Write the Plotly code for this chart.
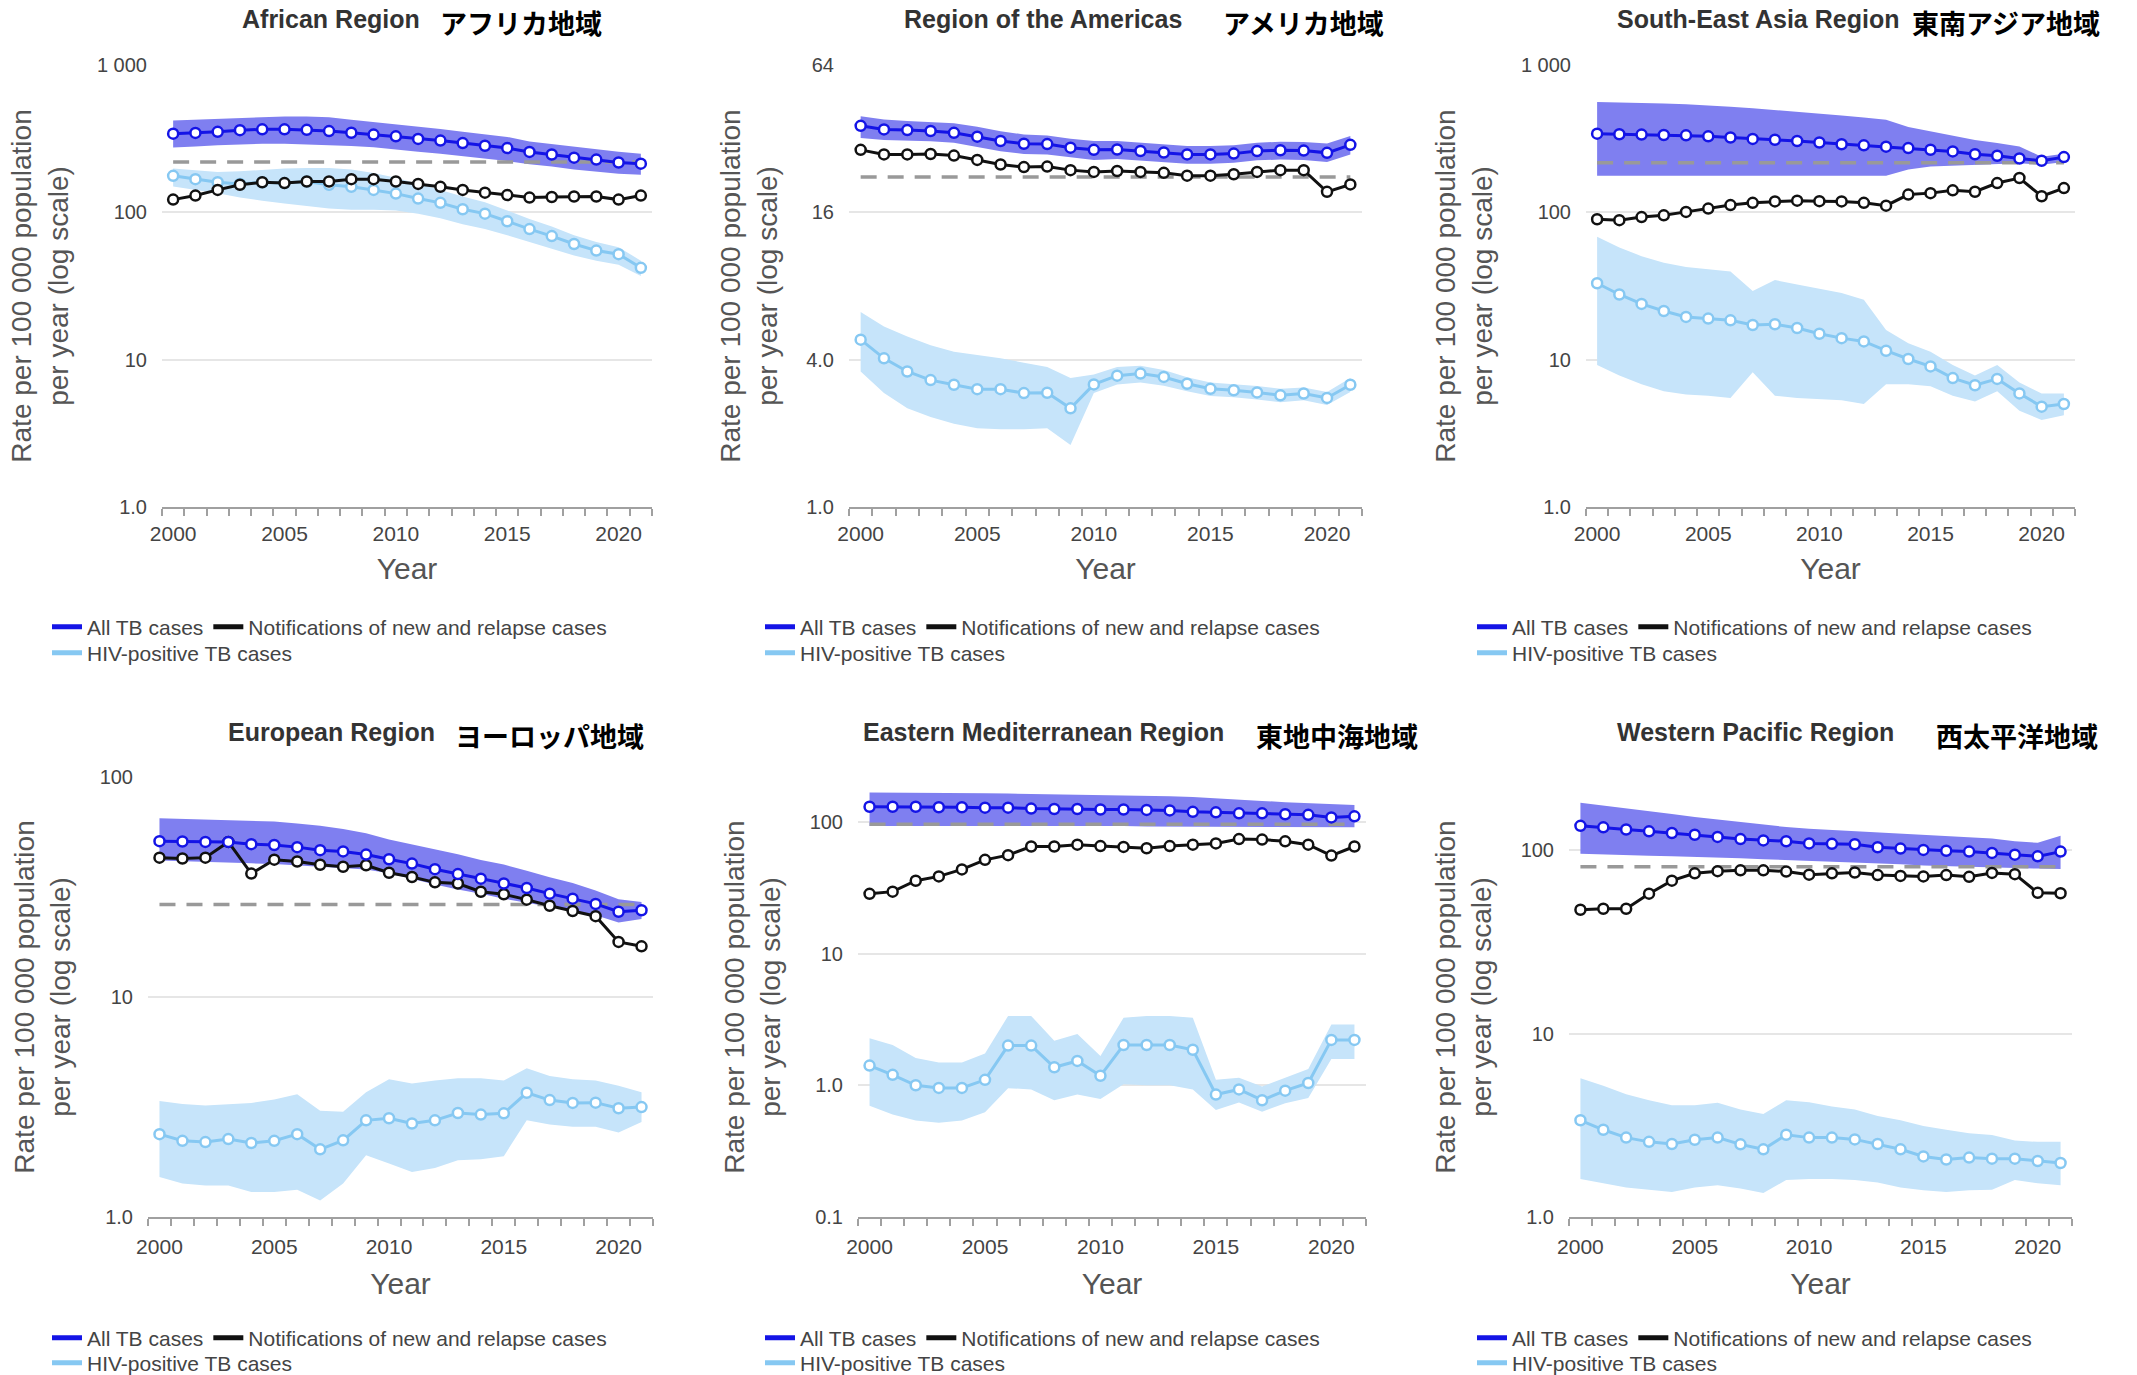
import plotly.graph_objects as go

years = list(range(2000, 2022))

# ---------------- African Region ----------------
afr_all = [342, 346, 352, 361, 366, 366, 363, 356, 347, 337, 328, 315, 307, 295, 283, 273, 257, 247, 235, 228, 218, 214]
afr_all_hi = [420, 425, 432, 438, 444, 447, 447, 442, 425, 410, 398, 382, 368, 352, 338, 325, 302, 290, 277, 268, 258, 250]
afr_all_lo = [275, 280, 285, 290, 292, 292, 290, 286, 282, 276, 268, 258, 250, 240, 232, 223, 212, 205, 195, 190, 183, 180]
afr_notif = [122, 130, 142, 154, 160, 158, 162, 162, 168, 168, 162, 156, 149, 142, 136, 131, 126, 127, 128, 128, 122, 130]
afr_hiv = [177, 168, 160, 156, 160, 158, 162, 154, 149, 142, 134, 124, 116, 105, 98, 87, 77, 69, 61, 55, 52, 42]
afr_hiv_hi = [198, 192, 188, 190, 195, 198, 200, 200, 195, 185, 172, 157, 142, 128, 117, 103, 90, 80, 70, 63, 58, 47]
afr_hiv_lo = [150, 142, 135, 126, 120, 115, 110, 106, 104, 104, 103, 98, 91, 83, 77, 70, 63, 57, 51, 47, 44, 37]
afr_target = 220

# ---------------- Region of the Americas ----------------
amr_all = [36.1, 34.9, 34.7, 34.4, 33.8, 32.6, 31.3, 30.5, 30.4, 29.4, 28.8, 28.9, 28.5, 28.1, 27.6, 27.6, 27.8, 28.5, 28.7, 28.6, 28.0, 30.2]
amr_all_hi = [39.5, 38.3, 37.8, 37.5, 37.0, 35.8, 34.3, 33.3, 33.0, 32.0, 31.3, 31.3, 30.8, 30.4, 29.9, 29.9, 30.1, 30.8, 31.1, 31.0, 30.6, 32.8]
amr_all_lo = [32.2, 31.6, 31.4, 31.2, 30.8, 29.6, 28.4, 27.7, 27.6, 26.8, 26.2, 26.4, 26.0, 25.7, 25.3, 25.3, 25.5, 26.1, 26.3, 26.2, 25.7, 27.6]
amr_notif = [28.8, 27.6, 27.6, 27.7, 27.3, 26.2, 25.1, 24.5, 24.6, 23.8, 23.4, 23.6, 23.4, 23.2, 22.6, 22.6, 22.9, 23.4, 23.8, 23.8, 19.4, 20.8]
amr_hiv = [4.83, 4.05, 3.58, 3.30, 3.16, 3.03, 3.03, 2.92, 2.93, 2.53, 3.17, 3.44, 3.51, 3.40, 3.19, 3.04, 3.00, 2.94, 2.86, 2.91, 2.79, 3.16]
amr_hiv_hi = [6.27, 5.46, 4.97, 4.58, 4.31, 4.17, 4.05, 3.89, 3.73, 3.37, 3.48, 3.73, 3.78, 3.63, 3.39, 3.23, 3.18, 3.12, 3.04, 3.08, 2.95, 3.37]
amr_hiv_lo = [3.58, 2.92, 2.53, 2.33, 2.19, 2.10, 2.08, 2.08, 2.10, 1.79, 2.92, 3.17, 3.23, 3.13, 2.97, 2.84, 2.81, 2.75, 2.68, 2.73, 2.61, 2.95]
amr_target = 22.3

# ---------------- South-East Asia Region ----------------
sear_all = [342, 339, 337, 335, 333, 328, 322, 315, 311, 305, 298, 290, 285, 279, 273, 266, 259, 248, 242, 232, 224, 237]
sear_all_hi = [561, 558, 553, 548, 542, 533, 520, 508, 495, 482, 470, 455, 440, 425, 380, 355, 330, 310, 295, 280, 238, 250]
sear_all_lo = [177, 177, 177, 177, 177, 177, 177, 177, 177, 177, 177, 177, 177, 177, 195, 205, 208, 210, 213, 215, 210, 220]
sear_notif = [89.7, 88.5, 92.8, 95.4, 100.7, 106, 112, 116, 118.6, 120, 119, 118.6, 116, 111, 132, 135, 141, 138, 158, 171, 128.6, 146]
sear_hiv = [33.0, 27.7, 23.9, 21.4, 19.5, 19.0, 18.5, 17.2, 17.4, 16.4, 15.0, 14.0, 13.3, 11.5, 10.1, 9.0, 7.5, 6.7, 7.4, 5.9, 4.8, 5.0]
sear_hiv_hi = [68.4, 57.7, 50.4, 45.5, 42.5, 41.1, 39.7, 29.2, 34.7, 32.4, 30.3, 28.3, 25.5, 15.9, 12.9, 11.3, 9.2, 7.8, 9.2, 7.0, 5.9, 5.9]
sear_hiv_lo = [9.2, 7.8, 6.8, 6.1, 5.8, 5.7, 5.5, 8.2, 5.7, 5.5, 5.4, 5.3, 5.0, 6.8, 6.8, 6.6, 5.7, 5.2, 6.1, 4.5, 3.9, 4.2]
sear_target = 217

# ---------------- European Region ----------------
eur_all = [51.1, 50.9, 50.7, 50.7, 49.5, 49.1, 48.0, 46.5, 45.9, 44.4, 42.3, 40.4, 38.1, 36.2, 34.5, 32.8, 31.3, 29.5, 28.0, 26.5, 24.4, 24.8]
eur_all_hi = [65.0, 64.5, 64.0, 63.6, 63.2, 62.7, 61.5, 60.0, 58.0, 55.5, 52.0, 49.5, 47.0, 44.5, 42.0, 40.0, 37.5, 35.0, 33.0, 30.5, 27.8, 27.0]
eur_all_lo = [41.7, 41.5, 41.2, 40.8, 40.5, 40.2, 39.8, 39.2, 38.6, 38.0, 36.5, 34.5, 32.5, 30.8, 29.5, 28.0, 26.8, 25.7, 24.8, 23.5, 21.8, 22.6]
eur_notif = [43.0, 42.6, 43.0, 50.7, 36.4, 42.1, 41.3, 39.9, 39.1, 39.7, 36.7, 35.1, 33.2, 32.8, 30.1, 29.3, 27.7, 26.0, 24.6, 23.3, 17.8, 17.0]
eur_hiv = [2.38, 2.22, 2.19, 2.26, 2.17, 2.22, 2.38, 2.03, 2.23, 2.75, 2.81, 2.66, 2.75, 2.97, 2.92, 2.96, 3.67, 3.40, 3.30, 3.31, 3.12, 3.16]
eur_hiv_hi = [3.37, 3.26, 3.21, 3.26, 3.30, 3.42, 3.61, 3.04, 3.01, 3.69, 4.23, 4.04, 4.17, 4.27, 4.27, 4.17, 4.74, 4.37, 4.23, 4.17, 3.95, 3.69]
eur_hiv_lo = [1.52, 1.42, 1.39, 1.39, 1.30, 1.30, 1.33, 1.19, 1.42, 1.91, 1.75, 1.60, 1.67, 1.81, 1.83, 1.89, 2.75, 2.63, 2.57, 2.57, 2.42, 2.70]
eur_target = 26.3

# ---------------- Eastern Mediterranean Region ----------------
emr_all = [130, 130, 130, 129, 129, 128, 128, 126, 125, 125, 124, 124, 123, 122, 119, 118, 116, 116, 114, 113, 108, 110]
emr_all_hi = [167, 167, 167, 166, 166, 165, 164, 163, 162, 161, 160, 159, 158, 156, 154, 150, 146, 144, 141, 139, 136, 134]
emr_all_lo = [93, 93, 93, 93, 93, 93, 93, 93, 93, 93, 93, 93, 92, 92, 92, 92, 92, 92, 91, 91, 91, 91]
emr_notif = [28.4, 29.5, 35.7, 38.5, 43.5, 51.4, 55.8, 64.9, 64.9, 67.0, 65.4, 64.5, 63.0, 65.4, 67.0, 68.5, 73.9, 73.3, 71.1, 67.0, 55.4, 64.9]
emr_hiv = [1.41, 1.20, 1.00, 0.955, 0.955, 1.10, 2.0, 2.0, 1.37, 1.53, 1.18, 2.02, 2.02, 2.02, 1.86, 0.85, 0.93, 0.77, 0.91, 1.04, 2.21, 2.21]
emr_hiv_hi = [2.27, 2.02, 1.61, 1.49, 1.49, 1.74, 3.36, 3.36, 2.18, 2.45, 1.67, 3.26, 3.36, 3.36, 3.26, 1.10, 1.14, 0.98, 1.14, 1.33, 2.89, 2.89]
emr_hiv_lo = [0.70, 0.60, 0.54, 0.52, 0.54, 0.625, 0.95, 0.93, 0.77, 0.85, 0.785, 1.02, 1.0, 1.0, 0.93, 0.65, 0.74, 0.63, 0.73, 0.80, 1.58, 1.58]
emr_target = 96

# ---------------- Western Pacific Region ----------------
wpr_all = [136, 133.5, 129.9, 127, 124.3, 121.6, 118.4, 115.2, 113.3, 112.1, 109.1, 108.5, 107.9, 103.9, 102.2, 100.5, 99.5, 98.4, 96.8, 94.7, 92.7, 98.4]
wpr_all_hi = [182, 176, 170, 164, 158, 152, 147, 142, 138, 134, 131, 129, 127, 125, 123, 122, 120, 118, 116, 112, 110, 120]
wpr_all_lo = [95.7, 95, 94.3, 93.5, 92.7, 92, 91, 90.5, 89.5, 88.8, 88.2, 87, 86, 85, 84, 82.7, 82, 81.5, 81, 80, 79.5, 79.1]
wpr_notif = [47.4, 48.0, 48.0, 58.0, 68.3, 74.9, 77.0, 77.8, 77.8, 76.6, 73.7, 74.9, 75.7, 73.3, 72.5, 72.1, 73.3, 71.7, 75.3, 74.1, 58.7, 58.3]
wpr_hiv = [3.37, 2.99, 2.71, 2.57, 2.50, 2.64, 2.71, 2.49, 2.34, 2.81, 2.71, 2.71, 2.65, 2.50, 2.34, 2.14, 2.06, 2.11, 2.08, 2.08, 2.02, 1.97]
wpr_hiv_hi = [5.71, 5.20, 4.67, 4.33, 4.07, 4.07, 4.20, 3.86, 3.65, 4.33, 4.22, 4.00, 3.86, 3.55, 3.37, 3.14, 2.99, 2.86, 2.80, 2.61, 2.57, 2.57]
wpr_hiv_lo = [1.61, 1.53, 1.45, 1.41, 1.37, 1.45, 1.49, 1.43, 1.35, 1.59, 1.61, 1.61, 1.59, 1.54, 1.45, 1.40, 1.37, 1.40, 1.41, 1.59, 1.53, 1.49]
wpr_target = 81.3

# titles and tick labels
titles_en = ["African Region", "Region of the Americas", "South-East Asia Region",
             "European Region", "Eastern Mediterranean Region", "Western Pacific Region"]
titles_ja = ["アフリカ地域", "アメリカ地域", "東南アジア地域",
             "ヨーロッパ地域", "東地中海地域", "西太平洋地域"]
ytick_vals = [[1, 10, 100, 1000], [1, 4, 16, 64], [1, 10, 100, 1000],
              [1, 10, 100], [0.1, 1, 10, 100], [1, 10, 100]]
ytick_text = [["1.0", "10", "100", "1 000"], ["1.0", "4.0", "16", "64"], ["1.0", "10", "100", "1 000"],
              ["1.0", "10", "100"], ["0.1", "1.0", "10", "100"], ["1.0", "10", "100"]]
yranges = [[0, 3], [0, 1.80618], [0, 3], [0, 2], [-1, 2.34], [0, 2.40]]
xtick_vals = [2000, 2005, 2010, 2015, 2020]
legend_names = ["All TB cases", "Notifications of new and relapse cases", "HIV-positive TB cases"]

panels = [
    (afr_all, afr_all_hi, afr_all_lo, afr_notif, afr_hiv, afr_hiv_hi, afr_hiv_lo, afr_target),
    (amr_all, amr_all_hi, amr_all_lo, amr_notif, amr_hiv, amr_hiv_hi, amr_hiv_lo, amr_target),
    (sear_all, sear_all_hi, sear_all_lo, sear_notif, sear_hiv, sear_hiv_hi, sear_hiv_lo, sear_target),
    (eur_all, eur_all_hi, eur_all_lo, eur_notif, eur_hiv, eur_hiv_hi, eur_hiv_lo, eur_target),
    (emr_all, emr_all_hi, emr_all_lo, emr_notif, emr_hiv, emr_hiv_hi, emr_hiv_lo, emr_target),
    (wpr_all, wpr_all_hi, wpr_all_lo, wpr_notif, wpr_hiv, wpr_hiv_hi, wpr_hiv_lo, wpr_target),
]

# ---------------- styling / layout ----------------
W, H = 2137, 1375
FONT = "Liberation Sans, Arial, sans-serif"
JFONT = "Noto Sans CJK JP, sans-serif"
BLUE = "#1414e6"
BAND_BLUE = "#7f7ff0"
BLACK = "#111111"
LBLUE = "#86c8f2"
BAND_LBLUE = "#c6e4fa"
GREY_DASH = "#999999"

# plot areas in pixels: (left, right, top, bottom)
areas = [
    (162, 652, 65, 507), (849, 1362, 65, 507), (1586, 2075, 65, 507),
    (148, 653, 777, 1217), (858, 1366, 777, 1217), (1569, 2072, 777, 1217),
]
title_en_x = [331, 1043, 1758, 331, 1043, 1755]
title_ja_x = [521, 1303, 2006, 549, 1337, 2017]
title_y = [19, 19, 19, 732, 732, 732]
legend_x = [47, 760, 1472, 47, 760, 1472]
legend_row_y = [(627, 653), (627, 653), (627, 653), (1338, 1363), (1338, 1363), (1338, 1363)]
xlabel_standoff = [7, 7, 7, 10, 10, 10]
xtitle_standoff = [14, 14, 14, 16, 16, 16]

fig = go.Figure()
layout = dict(width=W, height=H, margin=dict(l=0, r=0, t=0, b=0, autoexpand=False),
              paper_bgcolor="white", plot_bgcolor="white",
              font=dict(family=FONT, color="#444"), showlegend=True)
annotations = []

for i, (a_mid, a_hi, a_lo, notif, h_mid, h_hi, h_lo, target) in enumerate(panels):
    n = i + 1
    xa = "x" if n == 1 else f"x{n}"
    ya = "y" if n == 1 else f"y{n}"
    leg1 = "legend" if n == 1 else f"legend{2 * n - 1}"
    leg2 = f"legend{2 * n}"

    # uncertainty bands
    fig.add_trace(go.Scatter(x=years + years[::-1], y=a_hi + a_lo[::-1], fill="toself",
                             fillcolor=BAND_BLUE, line=dict(width=0), mode="lines",
                             showlegend=False, hoverinfo="skip", xaxis=xa, yaxis=ya))
    fig.add_trace(go.Scatter(x=years + years[::-1], y=h_hi + h_lo[::-1], fill="toself",
                             fillcolor=BAND_LBLUE, line=dict(width=0), mode="lines",
                             showlegend=False, hoverinfo="skip", xaxis=xa, yaxis=ya))
    # reference dashed line
    fig.add_trace(go.Scatter(x=[years[0], years[-1]], y=[target, target], mode="lines",
                             line=dict(color=GREY_DASH, width=3.5, dash="16px,11px"),
                             showlegend=False, hoverinfo="skip", xaxis=xa, yaxis=ya))
    # series lines
    for series, col in ((h_mid, LBLUE), (notif, BLACK), (a_mid, BLUE)):
        fig.add_trace(go.Scatter(x=years, y=series, mode="lines+markers",
                                 line=dict(color=col, width=3),
                                 marker=dict(symbol="circle", size=10, color="white",
                                             line=dict(color=col, width=2.5)),
                                 showlegend=False, xaxis=xa, yaxis=ya))
    # legend entries
    for name, col, lg in ((legend_names[0], BLUE, leg1), (legend_names[1], BLACK, leg1),
                          (legend_names[2], LBLUE, leg2)):
        fig.add_trace(go.Scatter(x=[None], y=[None], mode="lines", name=name,
                                 line=dict(color=col, width=5), legend=lg,
                                 xaxis=xa, yaxis=ya))

    l, r, t, b = areas[i]
    xkey = "xaxis" if n == 1 else f"xaxis{n}"
    ykey = "yaxis" if n == 1 else f"yaxis{n}"
    layout[xkey] = dict(
        domain=[l / W, r / W], anchor=ya, range=[1999.5, 2021.5], automargin=False,
        tickmode="array", tickvals=xtick_vals, ticks="", showgrid=False, zeroline=False,
        showline=True, linecolor="#a0a0a0", linewidth=1.5, ticklabelstandoff=xlabel_standoff[i],
        minor=dict(tickmode="linear", tick0=1999.5, dtick=1, ticks="outside",
                   ticklen=7, tickwidth=1.5, tickcolor="#a0a0a0", showgrid=False),
        tickfont=dict(size=21, color="#444", family=FONT),
        title=dict(text="Year", font=dict(size=30, color="#555", family=FONT),
                   standoff=xtitle_standoff[i]),
    )
    layout[ykey] = dict(
        domain=[1 - b / H, 1 - t / H], anchor=xa, type="log", range=yranges[i],
        automargin=False,
        tickmode="array", tickvals=ytick_vals[i], ticktext=ytick_text[i],
        showgrid=True, gridcolor="#e6e6e6", gridwidth=1.5, zeroline=False, showline=False,
        ticks="", ticklabelstandoff=14,
        tickfont=dict(size=20, color="#444", family=FONT),
        title=dict(text="Rate per 100 000 population<br>per year (log scale)",
                   font=dict(size=28, color="#555", family=FONT), standoff=20),
    )
    legend_common = dict(orientation="h", xanchor="left", yanchor="middle",
                         bgcolor="rgba(0,0,0,0)", borderwidth=0, itemwidth=30,
                         font=dict(size=21, color="#444", family=FONT),
                         itemclick=False, itemdoubleclick=False)
    layout[leg1] = dict(x=legend_x[i] / W, y=1 - legend_row_y[i][0] / H, **legend_common)
    layout[leg2] = dict(x=legend_x[i] / W, y=1 - legend_row_y[i][1] / H, **legend_common)

    annotations.append(dict(text="<b>" + titles_en[i] + "</b>", x=title_en_x[i] / W,
                            y=1 - title_y[i] / H, xref="paper", yref="paper",
                            xanchor="center", yanchor="middle", showarrow=False,
                            font=dict(size=25, color="#333", family=FONT)))
    annotations.append(dict(text="<b>" + titles_ja[i] + "</b>", x=title_ja_x[i] / W,
                            y=1 - (title_y[i] + 3) / H, xref="paper", yref="paper",
                            xanchor="center", yanchor="middle", showarrow=False,
                            font=dict(size=27, color="#000", family=JFONT)))

layout["annotations"] = annotations
fig.update_layout(**layout)
fig.write_html("out.html", config={"displayModeBar": False},
               post_script="document.body.style.margin='0px';document.body.style.overflow='hidden';")
